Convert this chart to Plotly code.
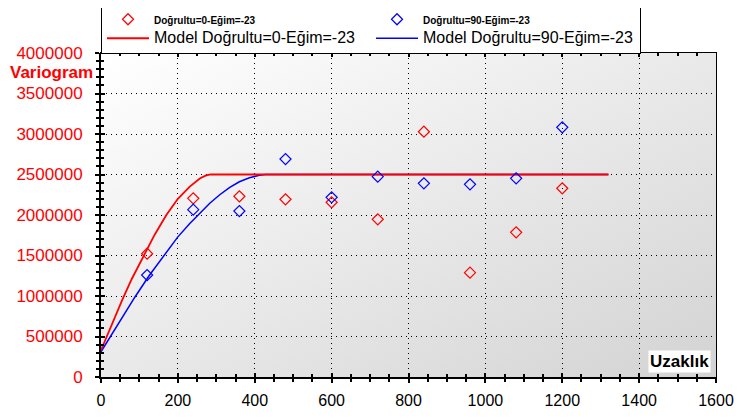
import base64
import plotly.graph_objects as go

# ---- data ----
lags = [120, 240, 360, 480, 600, 720, 840, 960, 1080, 1200]
gamma_dir0 = [1522000, 2206000, 2231000, 2194000, 2157000, 1947000, 3028000, 1288000, 1786000, 2330000]
gamma_dir90 = [1259000, 2066000, 2049000, 2691000, 2218000, 2473000, 2391000, 2379000, 2453000, 3083000]

model0_h = [0, 15, 30, 55, 80, 114, 140, 170, 200, 231, 257, 272, 285, 1320]
model0_g = [330000, 500000, 670000, 950000, 1210000, 1530000, 1760000, 2000000, 2200000, 2350000, 2450000,
            2485000, 2500000, 2500000]
model90_h = [0, 23, 55, 88, 125, 166, 200, 231, 257, 283, 309, 335, 360, 386, 412, 428, 1320]
model90_g = [312000, 490000, 735000, 985000, 1250000, 1520000, 1730000, 1895000, 2025000, 2145000, 2250000,
             2340000, 2410000, 2460000, 2490000, 2500000, 2500000]

name_pts0 = "Doğrultu=0-Eğim=-23"
name_pts90 = "Doğrultu=90-Eğim=-23"
name_mod0 = "Model Doğrultu=0-Eğim=-23"
name_mod90 = "Model Doğrultu=90-Eğim=-23"

FONT = "Liberation Sans, Arial, sans-serif"
RED = "#ff0000"
BLUE = "#0000ff"

small = "<b><span style='font-size:10px'>%s</span></b>"
big = "<span style='font-size:16px'>%s</span>"

fig = go.Figure()
fig.add_trace(go.Scatter(x=model90_h, y=model90_g, mode="lines", name=big % name_mod90,
                         line=dict(color=BLUE, width=1.5), legendrank=4))
fig.add_trace(go.Scatter(x=model0_h, y=model0_g, mode="lines", name=big % name_mod0,
                         line=dict(color=RED, width=1.8), legendrank=3))
fig.add_trace(go.Scatter(x=lags, y=gamma_dir0, mode="markers", name=small % name_pts0,
                         marker=dict(symbol="diamond-open", size=8.5, color=RED, line=dict(width=1.2, color=RED)),
                         legendrank=1))
fig.add_trace(go.Scatter(x=lags, y=gamma_dir90, mode="markers", name=small % name_pts90,
                         marker=dict(symbol="diamond-open", size=8.5, color=BLUE, line=dict(width=1.2, color=BLUE)),
                         legendrank=2))
fig.add_trace(go.Scatter(x=[None], y=[None], xaxis="x2", yaxis="y2", showlegend=False, hoverinfo="skip"))

svg = ('<svg xmlns="http://www.w3.org/2000/svg" width="615" height="324">'
       '<defs><linearGradient id="g" x1="0" y1="0" x2="1" y2="1">'
       '<stop offset="0" stop-color="#ffffff"/><stop offset="1" stop-color="#d3d3d3"/>'
       '</linearGradient></defs><rect width="615" height="324" fill="url(#g)"/></svg>')
src = "data:image/svg+xml;base64," + base64.b64encode(svg.encode()).decode()

# page body has an 8px default margin -> figure is 8px smaller and margins compensated
fig.update_layout(
    width=734, height=411,
    margin=dict(l=93, r=26, t=45, b=42, autoexpand=False),
    paper_bgcolor="white", plot_bgcolor="rgba(0,0,0,0)",
    font=dict(family=FONT, color="black"),
    images=[dict(source=src, xref="paper", yref="paper", x=0, y=1, sizex=1, sizey=1,
                 sizing="stretch", layer="below", xanchor="left", yanchor="top")],
    xaxis=dict(range=[0, 1600], tick0=0, dtick=200, type="linear", automargin=False,
               showline=True, linecolor="black", linewidth=2, mirror=False,
               ticks="outside", ticklen=4, tickwidth=2, tickcolor="black",
               minor=dict(dtick=50, ticks="outside", ticklen=3, tickwidth=1.5, tickcolor="black", showgrid=False),
               showgrid=True, gridcolor="black", gridwidth=1, griddash="1px,4px",
               zeroline=False, tickfont=dict(size=16, color="black", family=FONT),
               ticklabelstandoff=4),
    xaxis2=dict(range=[0, 1600], tick0=0, dtick=200, type="linear", overlaying="x", anchor="y2", side="bottom",
                automargin=False,
                showline=True, linecolor="black", linewidth=1, mirror="ticks",
                ticks="inside", ticklen=4, tickwidth=2, tickcolor="black",
                minor=dict(dtick=50, ticks="inside", ticklen=3, tickwidth=1.5, tickcolor="black", showgrid=False),
                showgrid=False, zeroline=False, showticklabels=False),
    yaxis=dict(range=[0, 4000000], tick0=0, dtick=500000, type="linear", automargin=False,
               showline=True, linecolor="black", linewidth=2, mirror=False,
               ticks="outside", ticklen=4, tickwidth=2, tickcolor="black",
               minor=dict(dtick=100000, ticks="outside", ticklen=3, tickwidth=1.5, tickcolor="black", showgrid=False),
               showgrid=True, gridcolor="black", gridwidth=1, griddash="1px,4px",
               zeroline=False, tickformat="d", tickfont=dict(size=17, color=RED, family=FONT),
               ticklabelstandoff=9),
    yaxis2=dict(range=[0, 4000000], tick0=0, dtick=500000, type="linear", overlaying="y", anchor="x2", side="left",
                automargin=False,
                showline=True, linecolor="black", linewidth=1, mirror=True,
                ticks="inside", ticklen=4, tickwidth=2, tickcolor="black",
                minor=dict(dtick=100000, ticks="inside", ticklen=3, tickwidth=1.5, tickcolor="black", showgrid=False),
                showgrid=False, zeroline=False, showticklabels=False),
    showlegend=True,
    legend=dict(orientation="h", x=0, y=1.152, xanchor="left", yanchor="top",
                bgcolor="white", bordercolor="black", borderwidth=1,
                font=dict(size=12, color="black", family=FONT),
                itemwidth=42, entrywidth=212, traceorder="normal", tracegroupgap=0),
    annotations=[
        dict(text="<b>Variogram</b>", xref="paper", yref="paper", x=-0.0813, y=0.941,
             xanchor="center", yanchor="middle", showarrow=False,
             font=dict(size=17, color=RED, family=FONT)),
        dict(text="<b>Uzaklık</b>", xref="paper", yref="paper", x=0.94, y=0.048,
             xanchor="center", yanchor="middle", showarrow=False, bgcolor="white", borderpad=1,
             font=dict(size=17, color="black", family=FONT)),
    ],
)

fig.write_html("out.html")
